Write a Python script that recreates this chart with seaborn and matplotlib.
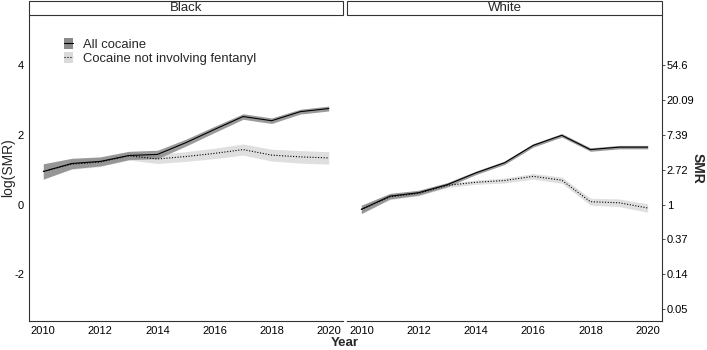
import numpy as np
import pandas as pd
import seaborn as sns
import matplotlib.pyplot as plt
from matplotlib.patches import Patch, Rectangle
from matplotlib.lines import Line2D

years = list(range(2010, 2021))

# log(SMR) estimates
black_all = [0.95, 1.18, 1.24, 1.41, 1.44, 1.78, 2.16, 2.53, 2.41, 2.67, 2.76]
black_nofent = [0.95, 1.16, 1.22, 1.40, 1.31, 1.38, 1.47, 1.58, 1.42, 1.37, 1.34]
white_all = [-0.14, 0.24, 0.34, 0.57, 0.91, 1.20, 1.70, 1.99, 1.58, 1.65, 1.65]
white_nofent = [-0.14, 0.22, 0.32, 0.55, 0.64, 0.69, 0.81, 0.70, 0.08, 0.05, -0.10]

# half widths of the confidence bands
black_all_hw = [0.22, 0.15, 0.13, 0.12, 0.12, 0.10, 0.09, 0.08, 0.08, 0.07, 0.07]
black_nofent_hw = [0.22, 0.15, 0.13, 0.12, 0.13, 0.14, 0.15, 0.16, 0.17, 0.18, 0.18]
white_all_hw = [0.12, 0.08, 0.07, 0.06, 0.05, 0.05, 0.05, 0.05, 0.05, 0.05, 0.05]
white_nofent_hw = [0.12, 0.08, 0.07, 0.06, 0.06, 0.07, 0.08, 0.09, 0.10, 0.11, 0.12]

groups = ["Black", "White"]
series = ["All cocaine", "Cocaine not involving fentanyl"]
left_ticks = [-2, 0, 2, 4]
right_ticks = [-3, -2, -1, 0, 1, 2, 3, 4]
right_labels = ["0.05", "0.14", "0.37", "1", "2.72", "7.39", "20.09", "54.6"]

values = {("Black", series[0]): (black_all, black_all_hw),
          ("Black", series[1]): (black_nofent, black_nofent_hw),
          ("White", series[0]): (white_all, white_all_hw),
          ("White", series[1]): (white_nofent, white_nofent_hw)}

rows = []
for (g, s), (est, hw) in values.items():
    for y, e, h in zip(years, est, hw):
        rows.append({"race": g, "type": s, "year": y, "logsmr": e,
                     "lo": e - h, "hi": e + h})
df = pd.DataFrame(rows)

sns.set_style("white")
plt.rcParams["font.family"] = ["Liberation Sans", "DejaVu Sans"]

band_col = {series[0]: "#8a8a8a", series[1]: "#dadada"}
line_style = {series[0]: "-", series[1]: ":"}

fig = plt.figure(figsize=(7.07, 3.5), dpi=100)
ax1 = fig.add_axes([29 / 707, 29 / 350, 314 / 707, 306 / 350])
ax2 = fig.add_axes([347 / 707, 29 / 350, 315 / 707, 306 / 350])

for ax, g in zip([ax1, ax2], groups):
    sub = df[df.race == g]
    for s in [series[1], series[0]]:
        d = sub[sub.type == s]
        ax.fill_between(d.year, d.lo, d.hi, color=band_col[s], alpha=0.85,
                        linewidth=0, zorder=1)
    sns.lineplot(data=sub, x="year", y="logsmr", style="type",
                 dashes={series[0]: "", series[1]: (1, 1.5)},
                 color="black", linewidth=0.8, ax=ax, legend=False, zorder=3)
    ax.set_xlim(2009.5, 2020.5)
    ax.set_ylim(-3.35, 5.45)
    ax.set_xticks([2010, 2012, 2014, 2016, 2018, 2020])
    ax.set_xlabel("")
    ax.set_ylabel("")
    ax.tick_params(axis="both", labelsize=8, length=2.5, width=0.6,
                   colors="#333333", labelcolor="black", pad=1)
    for sp in ax.spines.values():
        sp.set_color("#333333")
        sp.set_linewidth(0.8)
    ax.spines["top"].set_visible(False)
    # facet strip
    ax.add_patch(Rectangle((0, 1.0), 1, 14 / 306, transform=ax.transAxes,
                           facecolor="white", edgecolor="#333333", lw=0.8,
                           clip_on=False))
    ax.text(0.5, 1.0 + 7 / 306, g, transform=ax.transAxes, ha="center",
            va="center", fontsize=9.5)

ax1.spines["right"].set_visible(False)
ax1.set_yticks(left_ticks)
ax1.set_yticklabels([str(t) for t in left_ticks])

ax2.spines["left"].set_visible(False)
ax2.yaxis.tick_right()
ax2.set_yticks(right_ticks)
ax2.set_yticklabels(right_labels)
ax2.tick_params(axis="y", left=False, right=True)

fig.text(0.011, 0.52, "log(SMR)", rotation=90, ha="center",
         va="center", fontsize=10)
fig.text(0.987, 1 - 168 / 350, "SMR", rotation=270, ha="center", va="center",
         fontsize=10, fontweight="bold")
fig.text(345 / 707, 1 - 343.5 / 350, "Year", ha="center", va="center",
         fontsize=9.5, fontweight="bold")

handles = [(Patch(facecolor=band_col[s], edgecolor="none"),
            Line2D([], [], color="black", lw=0.8, linestyle=line_style[s]))
           for s in series]
ax1.legend(handles, series, loc="upper left", bbox_to_anchor=(0.09, 0.945),
           frameon=False, fontsize=9.4, handlelength=0.7, handleheight=0.9,
           handletextpad=0.75, labelspacing=0.05, borderpad=0)

fig.savefig("out.png", dpi=100)
